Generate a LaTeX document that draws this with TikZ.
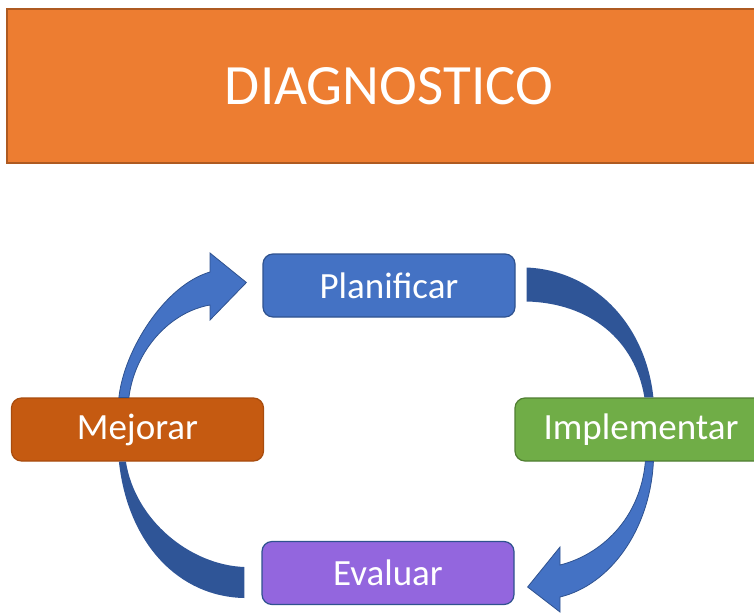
\documentclass[tikz,border=0pt]{standalone}
\usepackage{fontspec}
\setmainfont{Carlito}
\usetikzlibrary{calc}

\definecolor{naranja}{HTML}{ED7D31}
\definecolor{naranjaB}{HTML}{AE5A21}
\definecolor{azul}{HTML}{4472C4}
\definecolor{azulB}{HTML}{2F528F}
\definecolor{azulO}{HTML}{2F5597}
\definecolor{verde}{HTML}{70AD47}
\definecolor{verdeB}{HTML}{507E32}
\definecolor{oxido}{HTML}{C55A11}
\definecolor{oxidoB}{HTML}{A84C0E}
\definecolor{morado}{HTML}{9366DE}

\tikzset{
  fase/.style={rounded corners=10pt, minimum width=252pt, minimum height=63pt,
    text=white, font=\fontsize{37}{44}\selectfont, line width=1.2pt},
  flecha/.style={fill=azul, draw=azulB, line width=0.8pt},
  banda/.style={fill=azulO}
}

\begin{document}
\begin{tikzpicture}[x=1pt,y=-1pt]
    \useasboundingbox (0,0) rectangle (754,613);
    \clip (0,0) rectangle (754,613);

    % titulo
    \node[fill=naranja, draw=naranjaB, line width=2pt, minimum width=764pt, minimum height=154pt,
          text=white, font=\fontsize{57}{68}\selectfont] (diag) at (389,86) {DIAGNOSTICO};

    % las cuatro fases del ciclo
    \node[fase, fill=azul, draw=azulB] (plan) at (389,285.5) {Planificar};
    \node[fase, fill=verde, draw=verdeB] (impl) at (641,429.5) {Implementar};
    \node[fase, fill=morado, draw=azulB] (eval) at (388,573) {Evaluar};
    \node[fase, fill=oxido, draw=oxidoB] (mejo) at (137.5,429.5) {Mejorar};

    % bandas oscuras (parte trasera de las flechas)
    \fill[banda] ($(plan.east)+(11,-18)$) .. controls (590,270) and (645,320) .. ($(impl.north west)+(139,0)$)
        -- ($(impl.north west)+(130,0)$) .. controls (635,340) and (590,303) .. ($(plan.east)+(11,16)$) -- cycle;
    \fill[banda] ($(mejo.south west)+(108,0)$) .. controls (128,545) and (180,597) .. ($(eval.west)+(-17,25)$)
        -- ($(eval.west)+(-17,-6)$) .. controls (190,565) and (135,520) .. ($(mejo.south west)+(115,0)$) -- cycle;

    % flechas claras
    \draw[flecha] ($(mejo.north west)+(108,0)$) .. controls (124,350) and (165,285) .. (210,272)
        -- (210,253) -- ($(plan.west)+(-16,-3)$) -- (210,320) -- (210,305)
        .. controls (170,312) and (135,350) .. ($(mejo.north west)+(118,0)$) -- cycle;
    \draw[flecha] ($(impl.south west)+(139,0)$) .. controls (650,530) and (610,585) .. (560,597)
        -- (560,612) -- ($(eval.east)+(13,14)$) -- (560,547) -- (560,565)
        .. controls (600,555) and (640,520) .. ($(impl.south west)+(131,0)$) -- cycle;
\end{tikzpicture}
\end{document}
